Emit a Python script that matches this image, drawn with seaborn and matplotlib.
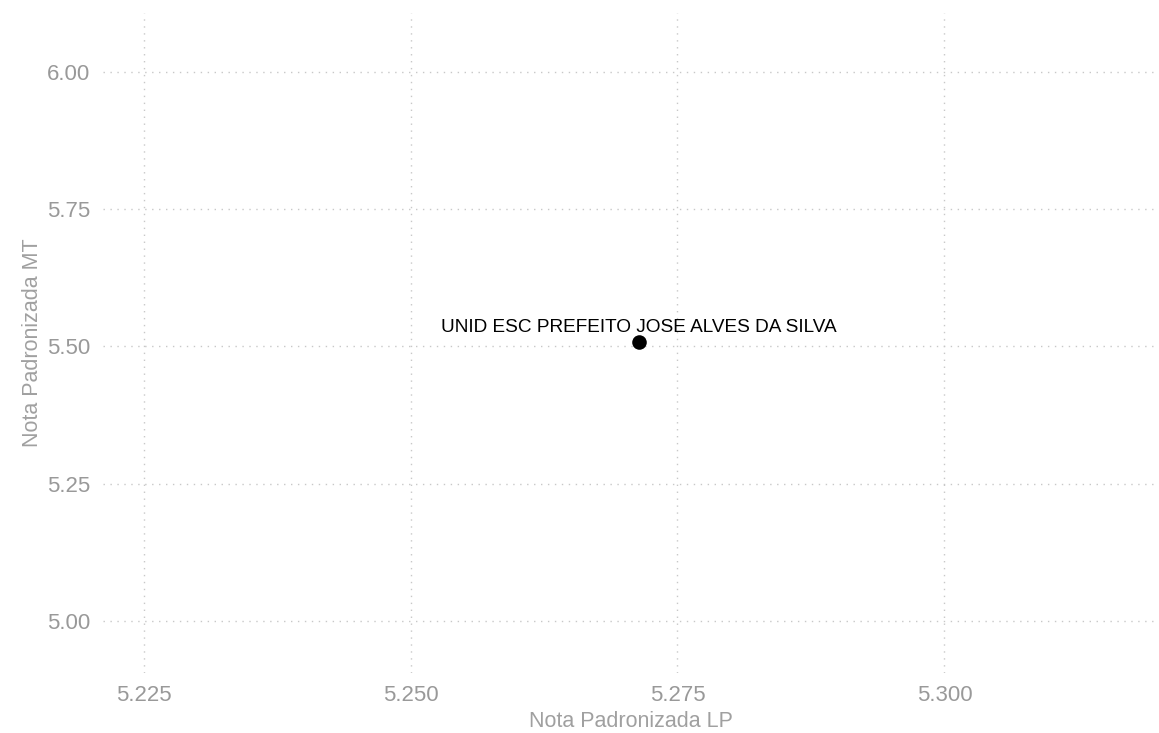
import matplotlib
matplotlib.use("Agg")
import matplotlib.pyplot as plt
import pandas as pd
import seaborn as sns

# data
escolas = ["UNID ESC PREFEITO JOSE ALVES DA SILVA"]
nota_lp = [5.2714]
nota_mt = [5.507]

x_ticks = [5.225, 5.250, 5.275, 5.300]
y_ticks = [5.00, 5.25, 5.50, 5.75, 6.00]

df = pd.DataFrame({"escola": escolas, "LP": nota_lp, "MT": nota_mt})

sns.set_theme(style="white")
plt.rcParams["font.family"] = ["Liberation Sans", "DejaVu Sans"]

fig, ax = plt.subplots(figsize=(11.59, 7.33), dpi=100)
fig.subplots_adjust(left=103 / 1159, right=1.0, top=1 - 13 / 733, bottom=1 - 673 / 733)

sns.scatterplot(data=df, x="LP", y="MT", ax=ax, color="black", s=110,
                edgecolor="black", linewidth=0, zorder=3)

for _, row in df.iterrows():
    ax.annotate(row["escola"], (row["LP"], row["MT"]), xytext=(0, 5),
                textcoords="offset points", ha="center", va="bottom",
                fontsize=13.7, color="black")

ax.set_xlim(5.2212, 5.3201)
ax.set_ylim(4.905, 6.107)
ax.set_xticks(x_ticks)
ax.set_xticklabels([f"{v:.3f}" for v in x_ticks])
ax.set_yticks(y_ticks)
ax.set_yticklabels([f"{v:.2f}" for v in y_ticks])

ax.grid(True, linestyle=(0, (1, 4)), color="#c8c8c8", linewidth=1)
for s in ax.spines.values():
    s.set_visible(False)
ax.tick_params(axis="both", length=0, labelsize=16, colors="#999999")
ax.tick_params(axis="x", pad=8.5)
ax.tick_params(axis="y", pad=9)

ax.set_xlabel("Nota Padronizada LP", fontsize=15.5, color="#a0a0a0", labelpad=4)
ax.set_ylabel("Nota Padronizada MT", fontsize=15.5, color="#a0a0a0", labelpad=3)

fig.savefig("out.png", dpi=100)
